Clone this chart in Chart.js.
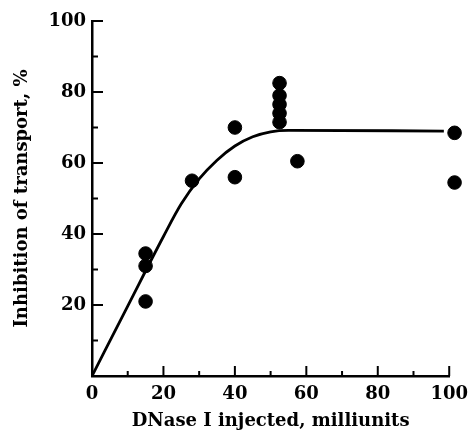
<!DOCTYPE html>
<html>
<head>
<meta charset="utf-8">
<script src="https://cdn.jsdelivr.net/npm/chart.js@4.4.0/dist/chart.umd.min.js"></script>
<style>
html, body { margin: 0; padding: 0; background: #fff; }
</style>
</head>
<body>
<canvas id="dnaseChart" width="476" height="432"></canvas>
<script>
// measured points (DNase dose vs inhibition) - the 100 mU pair first so the
// dataset is not treated as sorted and both points past the axis end get drawn
var doseX = [101.5, 15, 15, 15, 28, 40, 40, 52.5, 52.5, 52.5, 52.5, 52.5, 57.5, 101.5];
var inhibitionY = [54.5, 34.5, 31, 21, 55, 70, 56, 82.5, 79, 76.5, 74, 71.5, 60.5, 68.5];

// fitted curve
var curveX = [0, 10, 20, 25, 30, 35, 40, 45, 50, 55, 98.5];
var curveY = [0, 19.7, 39.3, 48.5, 55.5, 60.8, 64.8, 67.4, 68.8, 69.2, 69];

var tickLabels = [0, 20, 40, 60, 80, 100];
var minorTicks = [10, 30, 50, 70, 90];

var serif = "'DejaVu Serif', 'Liberation Serif', serif";

// inward tick marks like the printed figure
var innerTicks = {
    id: 'innerTicks',
    afterDraw: function(chart) {
        var c = chart.ctx;
        var xs = chart.scales.x, ys = chart.scales.y;
        var x0 = xs.getPixelForValue(0), y0 = ys.getPixelForValue(0);
        c.save();
        c.strokeStyle = '#000';
        c.lineWidth = 2;
        tickLabels.concat(minorTicks).forEach(function(v) {
            var len = minorTicks.indexOf(v) >= 0 ? 5 : 10;
            if (v === 0) return;
            var px = xs.getPixelForValue(v);
            c.beginPath(); c.moveTo(px, y0); c.lineTo(px, y0 - len); c.stroke();
            var py = ys.getPixelForValue(v);
            c.beginPath(); c.moveTo(x0, py); c.lineTo(x0 + len + 1, py); c.stroke();
        });
        c.restore();
    }
};

var ctx = document.getElementById('dnaseChart').getContext('2d');
var dnaseChart = new Chart(ctx, {
    type: 'scatter',
    data: {
        datasets: [{
            type: 'line',
            data: curveX.map(function(x, i) { return { x: x, y: curveY[i] }; }),
            borderColor: '#000',
            borderWidth: 2.8,
            pointRadius: 0,
            fill: false,
            cubicInterpolationMode: 'monotone'
        }, {
            data: doseX.map(function(x, i) { return { x: x, y: inhibitionY[i] }; }),
            backgroundColor: '#000',
            borderColor: '#000',
            pointRadius: 6.8,
            clip: false
        }]
    },
    options: {
        responsive: false,
        animation: false,
        devicePixelRatio: 1,
        layout: { padding: { top: 21, right: 23, left: 0, bottom: 0 } },
        plugins: {
            legend: { display: false },
            tooltip: { enabled: false }
        },
        scales: {
            x: {
                type: 'linear',
                min: 0,
                max: 100,
                afterFit: function(s) { s.height = 56; },
                border: { display: true, color: '#000', width: 2.5 },
                grid: { display: false, drawTicks: false },
                ticks: {
                    stepSize: 20,
                    padding: 8,
                    color: '#000',
                    maxRotation: 0,
                    font: { family: serif, size: 18, weight: 'bold' }
                },
                title: {
                    display: true,
                    text: 'DNase I injected, milliunits',
                    color: '#000',
                    padding: { top: 1, bottom: 0 },
                    font: { family: serif, size: 18, weight: 'bold' }
                }
            },
            y: {
                type: 'linear',
                min: 0,
                max: 100,
                afterFit: function(s) { s.width = 92; },
                border: { display: true, color: '#000', width: 2.5 },
                grid: { display: false, drawTicks: false },
                ticks: {
                    stepSize: 20,
                    padding: 6,
                    color: '#000',
                    font: { family: serif, size: 18, weight: 'bold' },
                    callback: function(v) { return v === 0 ? '' : v; }
                },
                title: {
                    display: true,
                    text: 'Inhibition of transport, %',
                    color: '#000',
                    padding: { top: 12, bottom: 0 },
                    font: { family: serif, size: 18, weight: 'bold' }
                }
            }
        }
    },
    plugins: [innerTicks]
});
</script>
</body>
</html>
